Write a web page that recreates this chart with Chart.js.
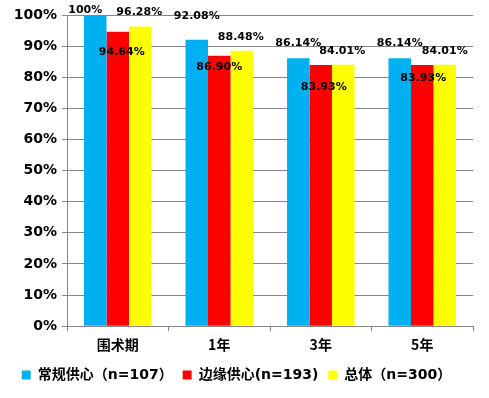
<!DOCTYPE html>
<html>
<head>
<meta charset="utf-8">
<script src="https://cdn.jsdelivr.net/npm/chart.js@4.4.1/dist/chart.umd.min.js"></script>
<style>
    html, body { margin: 0; padding: 0; background: #fff; }
    #wrap { width: 489px; height: 398px; }
</style>
</head>
<body>
<div id="wrap"><canvas id="survivalChart" width="489" height="398"></canvas></div>
<script>
// chart data
const categories = ['围术期', '1年', '3年', '5年'];
const seriesNames = ['常规供心（n=107）', '边缘供心(n=193)', '总体（n=300）'];
const regularValues = [100, 92.08, 86.14, 86.14];
const marginalValues = [94.64, 86.90, 83.93, 83.93];
const totalValues = [96.28, 88.48, 84.01, 84.01];
const yTicks = [0, 10, 20, 30, 40, 50, 60, 70, 80, 90, 100];

// where each value label sits relative to the top of its bar [dx, dy]
const labelShift = [
    [[-10, -5], [0, -24], [0, -15], [0, -15]],
    [[4, 20], [0, 11], [3, 22], [1, 13]],
    [[-1, -14], [-1, -14], [-1, -14], [0, -14]]
];

const valueLabels = {
    id: 'valueLabels',
    afterDatasetsDraw(chart) {
        const ctx = chart.ctx;
        ctx.save();
        ctx.font = 'bold 11px "DejaVu Sans", Verdana, sans-serif';
        ctx.fillStyle = '#000';
        ctx.textAlign = 'center';
        ctx.textBaseline = 'middle';
        chart.data.datasets.forEach((ds, i) => {
            chart.getDatasetMeta(i).data.forEach((bar, j) => {
                const s = labelShift[i][j];
                const txt = (ds.data[j] === 100 ? '100' : ds.data[j].toFixed(2)) + '%';
                ctx.fillText(txt, bar.x + s[0], bar.y + s[1]);
            });
        });
        ctx.restore();
    }
};

document.addEventListener('DOMContentLoaded', () => {
    const ctx = document.getElementById('survivalChart');
    const gray = '#868686';

    new Chart(ctx, {
        type: 'bar',
        data: {
            labels: categories,
            datasets: [{
                label: seriesNames[0],
                data: regularValues,
                backgroundColor: '#00B0F0'
            }, {
                label: seriesNames[1],
                data: marginalValues,
                backgroundColor: '#FF0000'
            }, {
                label: seriesNames[2],
                data: totalValues,
                backgroundColor: '#FFFF00'
            }]
        },
        options: {
            responsive: false,
            animation: false,
            layout: { padding: { top: 15, right: 16, bottom: 6, left: 0 } },
            datasets: {
                bar: { barPercentage: 1, categoryPercentage: 0.665 }
            },
            plugins: {
                tooltip: { enabled: false },
                legend: {
                    position: 'bottom',
                    labels: {
                        boxWidth: 9,
                        boxHeight: 9,
                        padding: 10,
                        color: '#000',
                        font: { family: '"DejaVu Sans", "Noto Sans CJK SC"', size: 14, weight: 'bold' }
                    }
                }
            },
            scales: {
                x: {
                    grid: {
                        offset: true,
                        drawOnChartArea: false,
                        drawTicks: true,
                        tickLength: 5,
                        color: gray
                    },
                    border: { color: gray, width: 1 },
                    ticks: {
                        color: '#000',
                        padding: 5,
                        font: { family: '"Noto Sans CJK SC", "DejaVu Sans"', size: 14, weight: 'bold' }
                    }
                },
                y: {
                    min: 0,
                    max: 100,
                    afterBuildTicks: (scale) => {
                        scale.ticks = yTicks.map(v => ({ value: v }));
                    },
                    afterFit: (scale) => { scale.width = 67; },
                    grid: {
                        color: gray,
                        tickLength: 5
                    },
                    border: { color: gray, width: 1 },
                    ticks: {
                        color: '#000',
                        padding: 5,
                        font: { family: '"DejaVu Sans", Verdana, sans-serif', size: 14, weight: 'bold' },
                        callback: (v) => v + '%'
                    }
                }
            }
        },
        plugins: [valueLabels]
    });
});
</script>
</body>
</html>
